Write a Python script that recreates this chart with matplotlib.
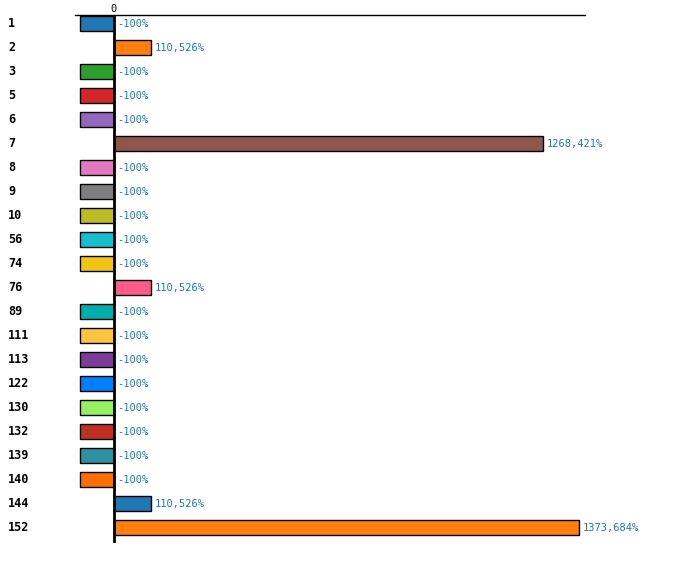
import matplotlib
matplotlib.use("Agg")
import matplotlib.pyplot as plt

# --- data ---
categories = ["1", "2", "3", "5", "6", "7", "8", "9", "10", "56", "74",
              "76", "89", "111", "113", "122", "130", "132", "139", "140",
              "144", "152"]
values = [-100, 110.526, -100, -100, -100, 1268.421, -100, -100, -100, -100,
          -100, 110.526, -100, -100, -100, -100, -100, -100, -100, -100,
          110.526, 1373.684]
colors = ["#1f77b4", "#ff7f0e", "#2ca02c", "#d62728", "#9467bd", "#8c564b",
          "#e377c2", "#7f7f7f", "#bcbd22", "#17becf", "#f1c40f", "#ff5b8f",
          "#00aeaa", "#ffc340", "#7d3c98", "#0080ff", "#93f060", "#c0301e",
          "#2e8fa0", "#ff6f00", "#1f77b4", "#ff7f0e"]

FONT = "DejaVu Sans Mono"

fig = plt.figure(figsize=(7.0, 5.73), dpi=100)
# axes spans x 75..585 px, y 15..543 px
ax = fig.add_axes([75 / 700, 1 - 543 / 573, 510 / 700, 528 / 573])

pos = list(range(len(categories)))
ax.barh(pos, values, height=0.625, color=colors, edgecolor="black",
        linewidth=1.0, zorder=2)

ax.set_xlim(-115, 1391)
ax.set_ylim(len(categories) - 0.36, -0.36)

# zero line and top axis
ax.axvline(0, color="black", linewidth=2, zorder=3)
for side in ["right", "bottom", "left"]:
    ax.spines[side].set_visible(False)
ax.spines["top"].set_linewidth(1.0)

ax.xaxis.tick_top()
ax.set_xticks([0])
ax.set_xticklabels(["0"], fontfamily=FONT, fontsize=7.5)
ax.tick_params(axis="x", length=0, pad=1)
ax.set_yticks([])

# category labels on the left
for p, cat in zip(pos, categories):
    ax.annotate(cat, xy=(0, p), xycoords=("figure fraction", "data"),
                xytext=(6, 0), textcoords="offset points",
                ha="left", va="center", fontsize=8.5, fontweight="bold",
                fontfamily=FONT)

# value labels
for p, v in zip(pos, values):
    x0 = max(v, 0)
    txt = f"{v:.3f}".rstrip("0").rstrip(".").replace(".", ",") + "%"
    ax.annotate(txt, xy=(x0, p), xytext=(2 if v < 0 else 2.5, 0),
                textcoords="offset points",
                ha="left", va="center", fontsize=7.5, color="#1f77b4",
                fontfamily=FONT)

fig.savefig("out.png", dpi=100)
